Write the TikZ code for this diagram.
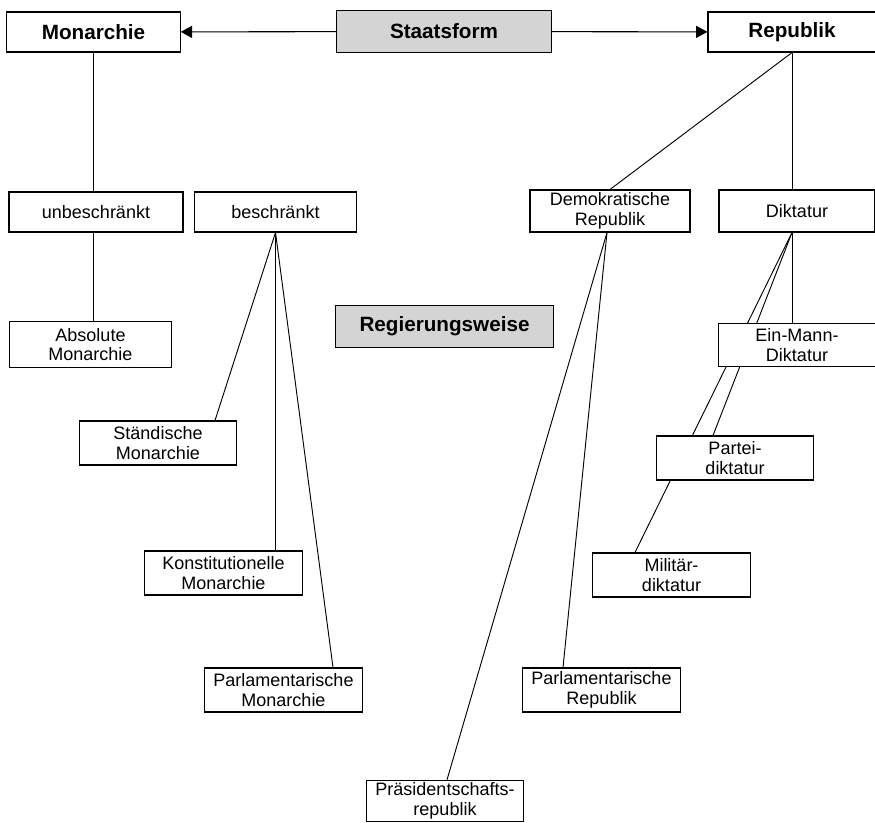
\documentclass[tikz,border=0pt]{standalone}
\usepackage{fontspec}
\setmainfont{Liberation Sans}
\usetikzlibrary{arrows.meta, backgrounds}

\begin{document}
\begin{tikzpicture}[
    x=0.75pt, y=-0.75pt,
    box/.style={rectangle, draw, fill=white, line width=0.8pt, minimum width=118pt, minimum height=33pt, inner sep=0pt, align=center, font=\fontsize{13.5}{14.8}\selectfont},
    head/.style={box, minimum width=128pt, minimum height=30pt, font=\bfseries\fontsize{15.5}{18}\selectfont},
    grey/.style={head, fill=black!17, minimum width=161pt, minimum height=31pt},
    link/.style={line width=0.7pt},
    arr/.style={-{Triangle[length=8.5pt, width=9pt]}, line width=0.8pt}
]
    \useasboundingbox (0,0) rectangle (875,822);

    % top row
    \node[head, minimum width=130pt] (monarchie) at (93.5,32) {Monarchie};
    \node[grey] (staatsform) at (444,31.5) {Staatsform};
    \node[head, minimum width=126pt] (republik) at (792,32) {Republik};

    % monarchie side
    \node[box, minimum width=130.5pt, minimum height=30pt] (unbeschr) at (96,212) {unbeschränkt};
    \node[box, minimum width=122pt, minimum height=30pt] (beschr) at (275.5,212) {beschränkt};
    \node[box, minimum width=122pt, minimum height=34pt] (absolut) at (90.5,344.5) {Absolute\\Monarchie};
    \node[box] (staend) at (158,443) {Ständische\\Monarchie};
    \node[box] (konst) at (223.5,573) {Konstitutionelle\\Monarchie};
    \node[box] (parlmon) at (283.5,690) {Parlamentarische\\Monarchie};

    \node[grey, minimum width=163pt] (regierung) at (444.5,326.5) {Regierungsweise};

    % republik side
    \node[box, minimum width=120pt, minimum height=31.5pt] (demrep) at (610,211) {Demokratische\\Republik};
    \node[box, minimum width=117pt, minimum height=31.5pt] (diktatur) at (797,211) {Diktatur};
    \node[box, minimum height=32pt] (einmann) at (797,345) {Ein-Mann-\\Diktatur};
    \node[box] (partei) at (735,458) {Partei-\\diktatur};
    \node[box] (militaer) at (671.5,575) {Militär-\\diktatur};
    \node[box] (parlrep) at (601.5,690) {Parlamentarische\\Republik};
    \node[box, minimum height=31pt] (praes) at (445,801) {Präsidentschafts-\\republik};

    \draw[arr] (staatsform) -- (monarchie);
    \draw[arr] (staatsform) -- (republik);

    \begin{scope}[on background layer]
        \draw[link] (monarchie.south) -- (unbeschr.north -| monarchie.south);
        \draw[link] (unbeschr.south -| monarchie.south) -- (absolut.north -| monarchie.south);
        \draw[link] (beschr.south) -- (staend.north -| 215,0);
        \draw[link] (beschr.south) -- (konst.north -| beschr.south);
        \draw[link] (beschr.south) -- (parlmon.north -| 333,0);
        \draw[link] (republik.south) -- (demrep.north);
        \draw[link] (republik.south) -- (diktatur.north -| republik.south);
        \draw[link] (demrep.south -| 607,0) -- (parlrep.north -| 563,0);
        \draw[link] (demrep.south -| 607,0) -- (praes.north -| 447,0);
        \draw[link] (diktatur.south -| republik.south) -- (einmann.north -| republik.south);
        \draw[link] (diktatur.south -| republik.south) -- (partei.north -| 713,0);
        \draw[link] (diktatur.south -| republik.south) -- (militaer.north -| 635,0);
    \end{scope}
\end{tikzpicture}
\end{document}
